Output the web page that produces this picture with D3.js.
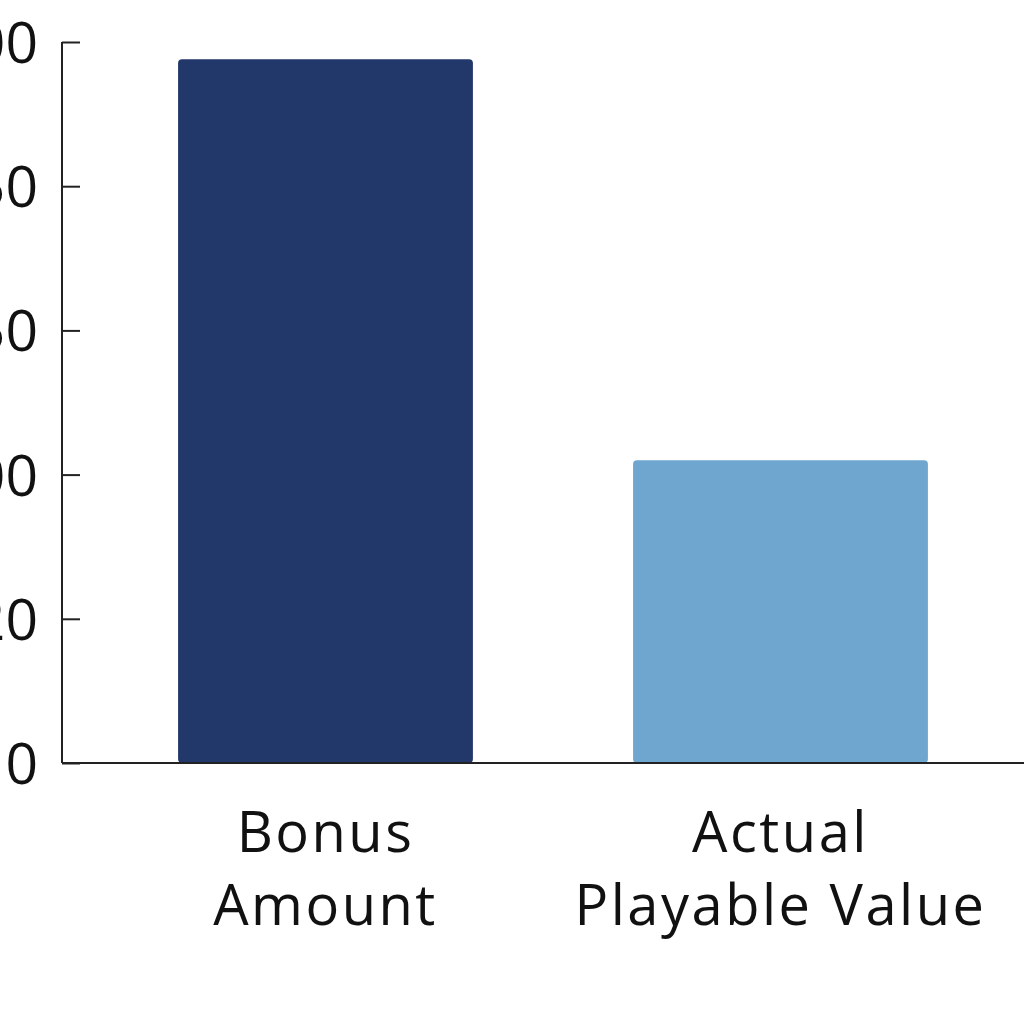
<!DOCTYPE html>
<html lang="en">
    <head>
        <title>Bonus Amount vs Actual Playable Value</title>
        <script src="https://d3js.org/d3.v7.min.js"></script>
        <style>
            body { margin: 0; background: #fff; }
        </style>
    </head>
    <body>
    <div id="mainDiv"></div>

        <script type="text/javascript">
            const width = 1024
            const height = 1024

            // data
            const categories = [['Bonus', 'Amount'], ['Actual', 'Playable Value']]
            const values = [244, 105]
            const barColors = ['#22376a', '#6ea6cf']
            const yTicks = [0, 50, 100, 150, 200, 250]
            const yTickLabels = ['0', '20', '100', '150', '250', '300']

            const margins = {
                top: 42,
                bottom: 261,
                left: 62,
                right: 0
            }

            const svg = d3.select('#mainDiv').append('svg')
                .attr('width', width)
                .attr('height', height)

            const xScale = d3.scaleBand()
                .domain(d3.range(categories.length))
                .range([98, 1008])
                .paddingInner(0.352)
                .paddingOuter(0.176)

            const yScale = d3.scaleLinear()
                .domain([0, 250])
                .range([height - margins.bottom, margins.top])

            // bars
            svg.selectAll('rect.bar')
                .data(values)
                .join('rect')
                .attr('class', 'bar')
                .attr('x', (d, i) => xScale(i))
                .attr('y', d => yScale(d))
                .attr('width', xScale.bandwidth())
                .attr('height', d => yScale(0) - yScale(d))
                .attr('rx', 4)
                .style('fill', (d, i) => barColors[i])

            // y axis, ticks pointing inward
            const yAxis = d3.axisLeft(yScale)
                .tickValues(yTicks)
                .tickSize(-18)
                .tickFormat((d, i) => yTickLabels[i])

            const yG = svg.append('g')
                .attr('transform', `translate(${margins.left},0)`)
                .call(yAxis)
            yG.select('.domain').remove()
            yG.append('line')
                .attr('x1', 0).attr('x2', 0)
                .attr('y1', yScale(250)).attr('y2', yScale(0))
                .attr('stroke', '#222').attr('stroke-width', 2)
            yG.selectAll('.tick line')
                .attr('stroke', '#222').attr('stroke-width', 2)
            yG.selectAll('.tick text')
                .attr('x', -24)
                .attr('dy', '0.36em')
                .style('font-family', '"Open Sans", sans-serif')
                .style('font-size', '57px')
                .style('fill', '#111')

            // x axis baseline
            svg.append('line')
                .attr('x1', margins.left).attr('x2', width)
                .attr('y1', yScale(0)).attr('y2', yScale(0))
                .attr('stroke', '#222').attr('stroke-width', 2)

            // category labels
            const labels = svg.selectAll('text.cat')
                .data(categories)
                .join('text')
                .attr('class', 'cat')
                .attr('text-anchor', 'middle')
                .style('font-family', '"Open Sans", sans-serif')
                .style('font-size', '56px')
                .style('letter-spacing', '2.5px')
                .style('fill', '#111')

            labels.selectAll('tspan')
                .data((d, i) => d.map(line => ({ line, i })))
                .join('tspan')
                .attr('x', d => xScale(d.i) + xScale.bandwidth() / 2)
                .attr('y', (d, j) => 852 + j * 73)
                .text(d => d.line)
        </script>
    </body>
</html>
